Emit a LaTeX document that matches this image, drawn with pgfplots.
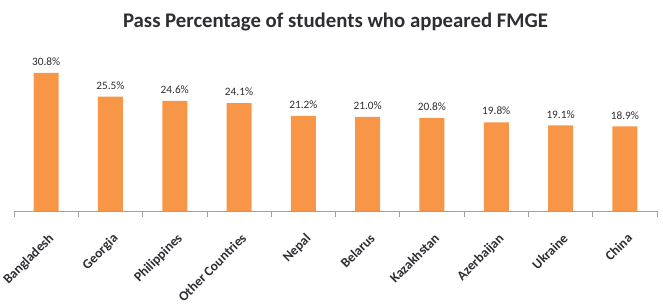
\documentclass[border=0pt]{standalone}
\usepackage{pgfplots}
\pgfplotsset{compat=1.18}
\usepackage{fontspec}
\setmainfont{Carlito}
\definecolor{barorange}{RGB}{247,150,70}
\definecolor{axisgray}{RGB}{160,160,160}
\definecolor{labelgray}{RGB}{45,45,50}

\begin{document}
\begin{tikzpicture}
\begin{axis}[
  scale only axis,
  width=643pt, height=143.4pt,
  ymin=0, ymax=32,
  xmin=-0.5, xmax=9.5,
  axis x line*=bottom,
  hide y axis,
  x axis line style={axisgray, line width=0.8pt, -},
  xtick={0,...,9},
  xticklabels={Bangladesh,Georgia,Philippines,Other Countries,Nepal,Belarus,Kazakhstan,Azerbaijan,Ukraine,China},
  major x tick style={draw=none},
  minor xtick={-0.5,0.5,...,9.5},
  minor x tick style={axisgray, line width=0.8pt},
  minor tick length=6pt,
  tick align=outside,
  xticklabel style={font=\bfseries\fontsize{13.5}{15}\selectfont, text=labelgray, rotate=45, anchor=north east, inner sep=1pt, yshift=-12pt, xshift=-10pt},
  ybar, bar width=25pt,
  /pgf/number format/assume math mode=true,
  nodes near coords={\pgfmathprintnumber[fixed,fixed zerofill,precision=1]{\pgfplotspointmeta}\%},
  nodes near coords style={font=\fontsize{11.3}{13}\selectfont, text=labelgray, inner sep=0pt, yshift=7pt},
  clip=false,
]
\addplot[fill=barorange, draw=none] coordinates {
  (0,30.8) (1,25.5) (2,24.6) (3,24.1) (4,21.2)
  (5,21.0) (6,20.8) (7,19.8) (8,19.1) (9,18.9)
};
\node[font=\bfseries\fontsize{20.8}{24}\selectfont, text=labelgray] at (rel axis cs:0.5,1) [yshift=45.6pt] {Pass Percentage of students who appeared FMGE};
\end{axis}
\pgfresetboundingbox
\path[use as bounding box] (-14pt,-96pt) rectangle (649pt,211pt);
\end{tikzpicture}
\end{document}
